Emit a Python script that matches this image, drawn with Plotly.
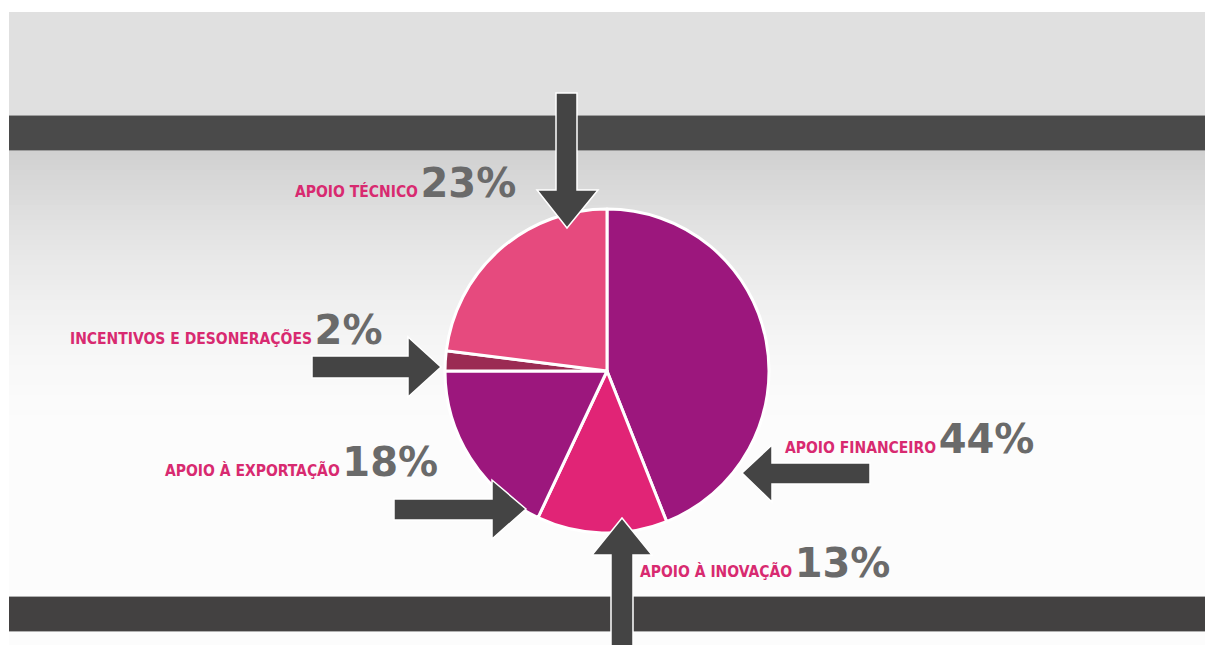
import plotly.graph_objects as go

W, H = 1205, 645

# ---- data ----
categories = ["APOIO FINANCEIRO", "APOIO À INOVAÇÃO", "APOIO À EXPORTAÇÃO",
              "INCENTIVOS E DESONERAÇÕES", "APOIO TÉCNICO"]
values = [44, 13, 18, 2, 23]
slice_colors = ["#9c177d", "#e12476", "#9c177d", "#9b2b53", "#e64a7e"]

def px(x):
    return x / W

def py(y):
    return 1 - y / H

fig = go.Figure()

cx, cy, r = 607, 371, 162
fig.add_trace(go.Pie(
    labels=categories, values=values, sort=False, direction="clockwise",
    rotation=0, textinfo="none", hoverinfo="label+percent",
    marker=dict(colors=slice_colors, line=dict(color="white", width=3)),
    domain=dict(x=[px(cx - r), px(cx + r)], y=[py(cy + r), py(cy - r)]),
    showlegend=False,
))

shapes = []
def rect(x0, y0, x1, y1, color, layer="below"):
    return dict(type="rect", xref="paper", yref="paper",
                x0=px(x0), x1=px(x1), y0=py(y1), y1=py(y0),
                fillcolor=color, layer=layer, line=dict(width=0))

shapes.append(rect(9, 12, W, 116, "#e0e0e0"))
# gradient below top bar
grad_top, grad_bot = 150, 430
n = 56
c0, c1 = 0xd0, 0xfc
for i in range(n):
    y0 = grad_top + (grad_bot - grad_top) * i / n
    y1 = grad_top + (grad_bot - grad_top) * (i + 1) / n + 0.6
    t = (i + 0.5) / n
    v = int(round(c0 + (c1 - c0) * (1 - (1 - t) ** 1.6)))
    shapes.append(rect(9, y0, W, y1, "#%02x%02x%02x" % (v, v, v)))
shapes.append(rect(9, grad_bot, W, H, "#fcfcfc"))

# dark bars
shapes.append(rect(9, 115, W, 151, "#9c9c9c"))
shapes.append(rect(9, 116, W, 150, "#4a4a4a"))
shapes.append(rect(9, 596, W, 632, "#b0b0b0"))
shapes.append(rect(9, 597, W, 631, "#434141"))

# arrows (above pie)
def path(points):
    s = "M " + " L ".join(f"{px(x):.5f},{py(y):.5f}" for x, y in points) + " Z"
    return dict(type="path", xref="paper", yref="paper", path=s,
                fillcolor="#444444", line=dict(color="white", width=1.5),
                layer="above")

shapes.append(path([(556, 93), (577, 93), (577, 190), (598, 190), (567, 228),
                    (537, 190), (556, 190)]))
shapes.append(path([(312, 356), (408, 356), (408, 337), (441, 367), (408, 397),
                    (408, 378), (312, 378)]))
shapes.append(path([(394, 499), (492, 499), (492, 480), (526, 509), (492, 539),
                    (492, 520), (394, 520)]))
shapes.append(path([(870, 463), (772, 463), (772, 445), (742, 473), (772, 502),
                    (772, 484), (870, 484)]))
shapes.append(path([(611, 646), (611, 555), (592, 555), (622, 518), (652, 555),
                    (633, 555), (633, 646)]))

# labels (left edge, vertical centre in px)
label_pos = {
    "APOIO TÉCNICO": (293, 183),
    "INCENTIVOS E DESONERAÇÕES": (68, 330),
    "APOIO À EXPORTAÇÃO": (163, 462),
    "APOIO FINANCEIRO": (783, 439),
    "APOIO À INOVAÇÃO": (638, 563),
}
annotations = []
for cat, val in zip(categories, values):
    x, y = label_pos[cat]
    txt = (f"<span style='font-family:\"DejaVu Sans Condensed\";font-size:15.5px;color:#d82a70'><b>{cat}</b></span>"
           f"<span style='font-size:8px'> </span>"
           f"<span style='font-family:\"DejaVu Sans\";font-size:40px;color:#6a6a6a'><b>{val}%</b></span>")
    annotations.append(dict(x=px(x), y=py(y), xref="paper", yref="paper",
                            xanchor="left", yanchor="middle", showarrow=False,
                            text=txt, font=dict(family="DejaVu Sans")))

fig.update_layout(
    width=W, height=H, margin=dict(l=0, r=0, t=0, b=0),
    paper_bgcolor="white", plot_bgcolor="white",
    shapes=shapes, annotations=annotations, showlegend=False,
)

fig.write_html("out.html")
